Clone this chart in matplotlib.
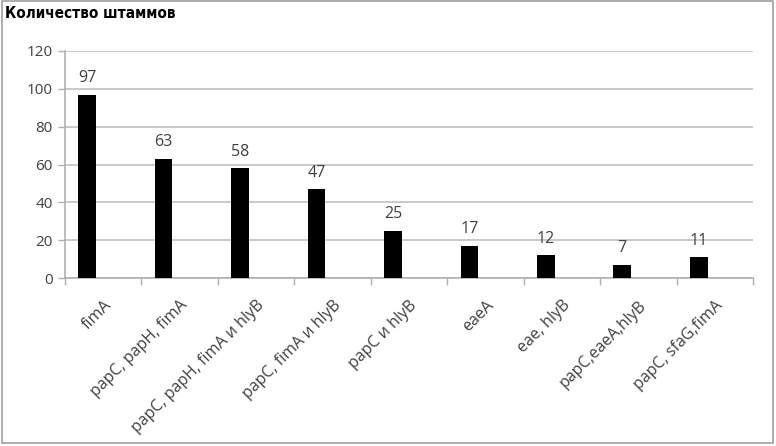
import matplotlib.pyplot as plt
from matplotlib.patches import Rectangle
import numpy as np

plt.rcParams['font.family'] = ['Open Sans', 'DejaVu Sans']

categories = ['fimA', 'papC, papH, fimA', 'papC, papH, fimA и hlyB',
              'papC, fimA и hlyB', 'papC и hlyB', 'eaeA', 'eae, hlyB',
              'papC,eaeA,hlyB', 'papC, sfaG,fimA']
counts = [97, 63, 58, 47, 25, 17, 12, 7, 11]
yticks = [0, 20, 40, 60, 80, 100, 120]
title = 'Количество штаммов'

grey = '#404040'
fig = plt.figure(figsize=(7.76, 4.46), dpi=100)
ax = fig.add_axes([65 / 776, 1 - 278 / 446, 688 / 776, 227 / 446])

x = np.arange(len(categories))
ax.bar(x + 0.29, counts, width=0.23, color='black', align='center', zorder=3)
for xi, v in zip(x, counts):
    ax.text(xi + 0.29, v + 4.5, str(v), ha='center', va='bottom',
            fontsize=11.5, color=grey)

ax.set_xlim(0, len(categories))
ax.set_ylim(0, 120)
ax.set_yticks(yticks)
ax.set_yticklabels([str(t) for t in yticks], fontsize=11, color=grey)
ax.yaxis.grid(True, color='#c0c0c0', linewidth=1.2, zorder=0)
ax.tick_params(axis='y', length=5, color='#b0b0b0', width=1, pad=4)

ax.set_xticks(np.arange(len(categories) + 1))
ax.set_xticklabels([])
ax.tick_params(axis='x', length=5, color='#b0b0b0', width=1)
ax.set_xticks(x + 0.5, minor=True)
ax.set_xticklabels(categories, minor=True, rotation=45, ha='right',
                   rotation_mode='anchor', fontsize=11.5, color=grey)
ax.tick_params(axis='x', which='minor', length=0, pad=14)

for s in ['top', 'right']:
    ax.spines[s].set_visible(False)
for s in ['left', 'bottom']:
    ax.spines[s].set_color('#b0b0b0')
    ax.spines[s].set_linewidth(1.2)

fig.text(5 / 776, 1 - 14 / 446, title, fontsize=11, fontweight='bold',
         va='center', ha='left', family=['DejaVu Sans'], fontstretch='condensed')
fig.patches.append(Rectangle((2 / 776, 3 / 446), 771 / 776, 442 / 446,
                             transform=fig.transFigure, fill=False,
                             edgecolor='#a0a0a0', linewidth=1.2))

fig.savefig('out.png', dpi=100)
